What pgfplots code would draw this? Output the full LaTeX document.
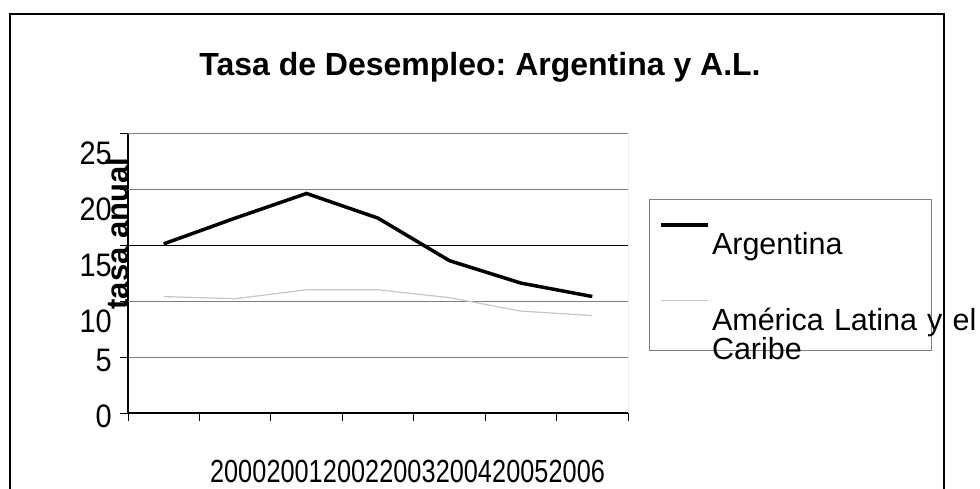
\documentclass[border=0pt]{standalone}
\usepackage{fontspec}
\setmainfont{Liberation Sans}
\usepackage{graphicx}
\usepackage{pgfplots}
\usepackage{pgfplotstable}
\pgfplotsset{compat=1.18}
\frenchspacing

% tasa de desempleo anual, 2000-2006 (x = 0..6)
\pgfplotstableread{
x arg alc
0 15.1 10.4
1 17.4 10.2
2 19.6 11.0
3 17.4 11.0
4 13.6 10.3
5 11.6 9.1
6 10.4 8.7
}\datatable

\newcommand\xl[1]{\scalebox{0.79}[1]{#1}}

\begin{document}
\begin{tikzpicture}
\path[use as bounding box] (0pt,0pt) rectangle (980pt,488pt);
\draw[line width=2.6pt] (10pt,-10pt) -- (10pt,474pt) -- (944pt,474pt) -- (944pt,-10pt);
\begin{axis}[
    at={(128pt,75pt)}, anchor=south west,
    scale only axis, width=500pt, height=280pt,
    xmin=-0.5, xmax=6.5, ymin=0, ymax=25,
    axis x line=bottom, axis y line=left,
    axis line style={-, black, line width=1.2pt},
    tick align=outside, major tick length=8pt,
    tick style={black, line width=1pt},
    /pgf/number format/assume math mode=true,
    xtick={-0.5,0.5,1.5,2.5,3.5,4.5,5.5,6.5}, xticklabels={},
    extra x ticks={1.043,1.833,2.623,3.413,4.203,4.993,5.783},
    extra x tick labels={\xl{2000},\xl{2001},\xl{2002},\xl{2003},\xl{2004},\xl{2005},\xl{2006}},
    extra x tick style={major tick length=0pt, grid=none},
    xticklabel style={font=\fontsize{32}{38}\selectfont, anchor=north, inner sep=0pt, yshift=-47pt},
    ytick={0,5},
    extra y ticks={10,15,20,25},
    extra y tick style={grid=major, yticklabel style={yshift=-17pt}},
    yticklabel={\scalebox{0.89}[1]{\pgfmathprintnumber{\tick}}},
    yticklabel style={font=\fontsize{32.5}{38}\selectfont, anchor=east, inner sep=0pt, xshift=-8pt, yshift=-3pt},
    ymajorgrids, grid style={gray, line width=1pt},
    ylabel={tasa anual},
    ylabel style={at={(axis description cs:0,0.641)}, anchor=base,
        font=\bfseries\fontsize{31}{36}\selectfont},
    title={Tasa de Desempleo: Argentina y A.L.},
    title style={at={(axis description cs:0.704,1)}, anchor=base, yshift=51pt,
        font=\bfseries\fontsize{32}{38}\selectfont},
    legend cell align=left,
    legend image code/.code={
        \draw[#1] (0pt,30pt) -- (47pt,30pt);
        \path (-10pt,-19.5pt) (47pt,53.5pt);},
    legend style={at={(axis description cs:1.042,0.764)}, anchor=north west,
        draw=gray, line width=1pt, inner sep=0pt, row sep=0pt, column sep=0pt,
        font=\fontsize{30.5}{36}\selectfont,
        cells={anchor=base west, inner sep=0pt, text width=217pt}},
]
\draw[black, line width=1pt] (axis cs:-0.5,15) -- (axis cs:6.5,15);
\draw[gray, line width=1pt] (axis cs:6.5,0) -- (axis cs:6.5,25);
\addplot[black, line width=3.5pt] table[x=x, y=arg] {\datatable};
\addlegendentry{\rlap{Argentina}}
\addplot[gray!45, line width=1.2pt] table[x=x, y=alc] {\datatable};
\addlegendentry{\rlap{América Latina y el}\rlap{\smash{\raisebox{-29pt}{Caribe}}}}
\end{axis}
\end{tikzpicture}
\end{document}
